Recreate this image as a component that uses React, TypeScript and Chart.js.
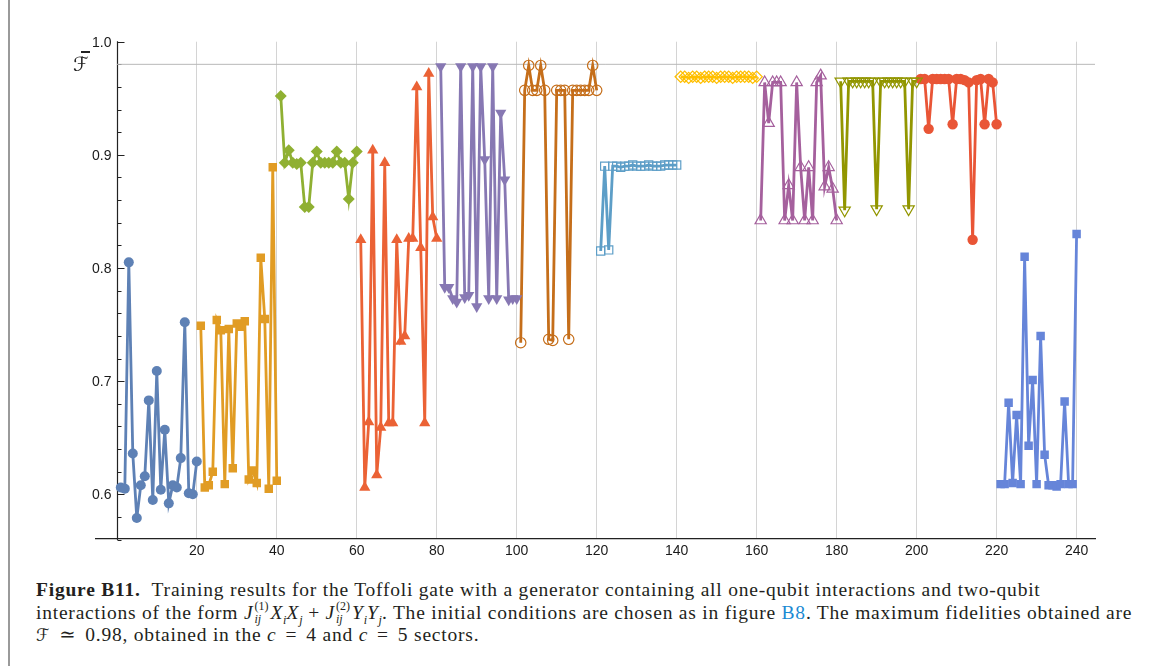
import React, { useEffect, useRef } from "react";
import Chart from "chart.js/auto";

// ---- axis ranges & ticks ----
const xMin = -5.2;
const xMax = 244.6;
const yMin = 0.5605;
const yMax = 1.0;
const xTickValues = [20, 40, 60, 80, 100, 120, 140, 160, 180, 200, 220, 240];
const yMajorTicks = [0.6, 0.7, 0.8, 0.9, 1.0];
const yMinorTicks = [0.56, 0.58, 0.62, 0.64, 0.66, 0.68, 0.72, 0.74, 0.76, 0.78, 0.82, 0.84, 0.86, 0.88, 0.92, 0.94, 0.96, 0.98];
const refLevel = 0.98;

// ---- data: 12 sectors of 20 runs each ----
const seriesStarts = [1, 21, 41, 61, 81, 101, 121, 141, 161, 181, 201, 221];

const s1 = [0.606, 0.605, 0.805, 0.636, 0.579, 0.608, 0.616, 0.683, 0.595, 0.709, 0.604, 0.657, 0.592, 0.608, 0.606, 0.632, 0.752, 0.601, 0.6, 0.629];
const s2 = [0.749, 0.606, 0.608, 0.62, 0.754, 0.745, 0.609, 0.746, 0.623, 0.751, 0.748, 0.753, 0.613, 0.621, 0.61, 0.809, 0.755, 0.605, 0.889, 0.612];
const s3 = [0.952, 0.893, 0.904, 0.893, 0.892, 0.893, 0.854, 0.854, 0.893, 0.903, 0.893, 0.893, 0.893, 0.893, 0.903, 0.893, 0.893, 0.861, 0.893, 0.903];
const s4 = [0.825, 0.606, 0.664, 0.904, 0.617, 0.659, 0.893, 0.663, 0.663, 0.825, 0.735, 0.74, 0.826, 0.826, 0.96, 0.818, 0.663, 0.972, 0.845, 0.826];
const s5 = [0.978, 0.783, 0.783, 0.773, 0.77, 0.978, 0.774, 0.776, 0.978, 0.766, 0.978, 0.896, 0.773, 0.978, 0.773, 0.937, 0.878, 0.772, 0.773, 0.773];
const s6 = [0.734, 0.957, 0.979, 0.957, 0.957, 0.979, 0.957, 0.737, 0.736, 0.957, 0.957, 0.957, 0.737, 0.957, 0.957, 0.957, 0.957, 0.957, 0.979, 0.957];
const s7 = [0.815, 0.89, 0.816, 0.89, 0.89, 0.889, 0.89, 0.89, 0.891, 0.89, 0.89, 0.89, 0.891, 0.89, 0.89, 0.89, 0.891, 0.891, 0.891, 0.891];
const s8 = [0.969, 0.969, 0.968, 0.969, 0.969, 0.968, 0.969, 0.969, 0.969, 0.968, 0.969, 0.969, 0.969, 0.968, 0.969, 0.969, 0.969, 0.969, 0.968, 0.969];
const s9 = [0.842, 0.964, 0.928, 0.964, 0.964, 0.964, 0.842, 0.873, 0.842, 0.964, 0.889, 0.842, 0.889, 0.842, 0.964, 0.97, 0.872, 0.889, 0.87, 0.842];
const s10 = [0.965, 0.851, 0.965, 0.965, 0.965, 0.965, 0.965, 0.965, 0.965, 0.852, 0.965, 0.965, 0.965, 0.965, 0.965, 0.965, 0.965, 0.852, 0.965, 0.965];
const s11 = [0.967, 0.967, 0.923, 0.967, 0.967, 0.967, 0.967, 0.967, 0.927, 0.967, 0.967, 0.966, 0.964, 0.825, 0.966, 0.967, 0.927, 0.967, 0.964, 0.927];
const s12 = [0.609, 0.609, 0.681, 0.61, 0.67, 0.609, 0.81, 0.643, 0.701, 0.609, 0.74, 0.635, 0.608, 0.608, 0.607, 0.609, 0.682, 0.609, 0.609, 0.83];

const allSeries = [s1, s2, s3, s4, s5, s6, s7, s8, s9, s10, s11, s12];

// ---- styles ----
const colors = ["#5E81B5", "#E19C24", "#8FB032", "#EB6235", "#8778B3", "#C56E1A", "#5D9EC7", "#FFBF00", "#A5609D", "#929600", "#E95536", "#6685D9"];
const markerStyles = [
  { style: "circle", r: 5, filled: true, rot: 0 },
  { style: "rect", r: 6, filled: true, rot: 0 },
  { style: "rectRot", r: 6, filled: true, rot: 0 },
  { style: "triangle", r: 6.5, filled: true, rot: 0 },
  { style: "triangle", r: 6.5, filled: true, rot: 180 },
  { style: "circle", r: 5.2, filled: false, rot: 0 },
  { style: "rect", r: 5.8, filled: false, rot: 0 },
  { style: "rectRot", r: 5.6, filled: false, rot: 0 },
  { style: "triangle", r: 6.5, filled: false, rot: 0 },
  { style: "triangle", r: 6.5, filled: false, rot: 180 },
  { style: "circle", r: 5.2, filled: true, rot: 0 },
  { style: "rect", r: 6, filled: true, rot: 0 },
];

const tickFont = "'Liberation Sans', Arial, sans-serif";

const yAxisPlugin = {
  id: "mmaYAxis",
  beforeDatasetsDraw(chart: any) {
    const { ctx, scales } = chart;
    const x = scales.x;
    const y = scales.y;
    const px = Math.round(x.getPixelForValue(0)) + 0.5;
    ctx.save();
    ctx.strokeStyle = "#222";
    ctx.lineWidth = 1.2;
    ctx.beginPath();
    ctx.moveTo(px, y.getPixelForValue(yMax) - 0.5);
    ctx.lineTo(px, y.getPixelForValue(0.56) + 0.5);
    for (const v of yMajorTicks) {
      const py = Math.round(y.getPixelForValue(v)) + 0.5;
      ctx.moveTo(px, py);
      ctx.lineTo(px + 7, py);
    }
    for (const v of yMinorTicks) {
      const py = Math.round(y.getPixelForValue(v)) + 0.5;
      ctx.moveTo(px, py);
      ctx.lineTo(px + 4, py);
    }
    ctx.stroke();
    ctx.fillStyle = "#1a1a1a";
    ctx.font = `14px ${tickFont}`;
    ctx.textAlign = "right";
    ctx.textBaseline = "middle";
    for (const v of yMajorTicks) {
      ctx.fillText(v.toFixed(1), px - 6, y.getPixelForValue(v) + 1);
    }
    ctx.restore();
  },
};

export default function App() {
  const canvasRef = useRef<HTMLCanvasElement | null>(null);

  useEffect(() => {
    if (!canvasRef.current) return;
    const datasets: any[] = [
      {
        label: "ref",
        data: [
          { x: 0, y: refLevel },
          { x: xMax, y: refLevel },
        ],
        showLine: true,
        borderColor: "#b8b8b8",
        borderWidth: 1,
        pointRadius: 0,
        order: 20,
      },
    ];
    allSeries.forEach((vals, k) => {
      const m = markerStyles[k];
      datasets.push({
        label: `c${k + 1}`,
        data: vals.map((v, i) => ({ x: seriesStarts[k] + i, y: v })),
        showLine: true,
        borderColor: colors[k],
        borderWidth: 2.8,
        pointStyle: m.style,
        pointRadius: m.r,
        pointRotation: m.rot,
        pointBackgroundColor: m.filled ? colors[k] : "rgba(0,0,0,0)",
        pointBorderColor: colors[k],
        pointBorderWidth: m.filled ? 0 : 1.2,
        order: 1,
      });
    });

    const chart = new Chart(canvasRef.current, {
      type: "scatter",
      data: { datasets },
      options: {
        animation: false,
        responsive: true,
        maintainAspectRatio: false,
        events: [],
        layout: { padding: { left: 96, right: 72, top: 41.7, bottom: 1 } },
        plugins: { legend: { display: false }, tooltip: { enabled: false } },
        scales: {
          x: {
            type: "linear",
            min: xMin,
            max: xMax,
            afterBuildTicks: (scale: any) => {
              scale.ticks = xTickValues.map((v) => ({ value: v }));
            },
            afterFit: (scale: any) => {
              scale.height = 30;
            },
            grid: { color: "#d4d4d4", lineWidth: 1, drawTicks: false },
            border: { display: true, color: "#222", width: 1.2 },
            ticks: {
              padding: 4,
              color: "#1a1a1a",
              font: { family: tickFont, size: 14 },
              maxRotation: 0,
              autoSkip: false,
              callback: (v: any) => String(v),
            },
          },
          y: {
            type: "linear",
            min: yMin,
            max: yMax,
            display: false,
          },
        },
      },
      plugins: [yAxisPlugin],
    });
    return () => chart.destroy();
  }, []);

  const serif = "'Liberation Serif', 'DejaVu Serif', serif";
  const capStyle: React.CSSProperties = {
    position: "absolute",
    left: 36,
    whiteSpace: "nowrap",
    fontFamily: serif,
    fontSize: 19.5,
    letterSpacing: 0.78,
    lineHeight: "22px",
    color: "#231f20",
  };
  const subStyle: React.CSSProperties = { fontSize: 12, fontStyle: "italic", lineHeight: 0, letterSpacing: 0 };
  const mathSp: React.CSSProperties = { display: "inline-block", width: 9 };
  const stack = (sup: string) => (
    <span style={{ position: "relative", display: "inline-block", width: 17, height: 0 }}>
      <span style={{ position: "absolute", left: 1, top: -19, fontSize: 12, lineHeight: "12px", fontStyle: "normal", letterSpacing: 0 }}>{sup}</span>
      <span style={{ position: "absolute", left: 1, top: -6, fontSize: 12, lineHeight: "12px", fontStyle: "italic", letterSpacing: 0 }}>ij</span>
    </span>
  );

  return (
    <div style={{ position: "absolute", left: 0, top: 0, width: 1167, height: 666, background: "#fff", overflow: "hidden" }}>
      <div style={{ position: "absolute", left: 8, top: 0, width: 1.5, height: 666, background: "#9a9a9a" }} />
      <div style={{ position: "absolute", left: 0, top: 0, width: 1167, height: 570 }}>
        <canvas ref={canvasRef} />
      </div>
      {/* y-axis label: F with bar */}
      <div style={{ position: "absolute", left: 81, top: 51, width: 9, height: 1.5, background: "#222" }} />
      <div style={{ position: "absolute", left: 73, top: 52, fontFamily: "'DejaVu Sans', sans-serif", fontStyle: "italic", fontSize: 20, lineHeight: "24px", color: "#222" }}>ℱ</div>
      {/* caption */}
      <div style={{ ...capStyle, top: 579 }}>
        <b>Figure B11.</b>&nbsp; Training results for the Toffoli gate with a generator containing all one-qubit interactions and two-qubit
      </div>
      <div style={{ ...capStyle, top: 602 }}>
        interactions of the form <i>J</i>
        {stack("(1)")}
        <i>X</i>
        <sub style={subStyle}>i</sub>
        <i>X</i>
        <sub style={subStyle}>j</sub> + <i>J</i>
        {stack("(2)")}
        <i>Y</i>
        <sub style={subStyle}>i</sub>
        <i>Y</i>
        <sub style={subStyle}>j</sub>. The initial conditions are chosen as in figure{" "}
        <span style={{ color: "#1b8ad3" }}>B8</span>. The maximum fidelities obtained are
      </div>
      <div style={{ ...capStyle, top: 624 }}>
        <span style={{ fontFamily: "'DejaVu Sans', sans-serif", fontStyle: "italic", fontSize: 17 }}>ℱ</span>
        <span style={mathSp} />≃<span style={mathSp} />0.98, obtained in the <i>c</i>
        <span style={mathSp} />=<span style={mathSp} />4 and <i>c</i>
        <span style={mathSp} />=<span style={mathSp} />5 sectors.
      </div>
    </div>
  );
}
